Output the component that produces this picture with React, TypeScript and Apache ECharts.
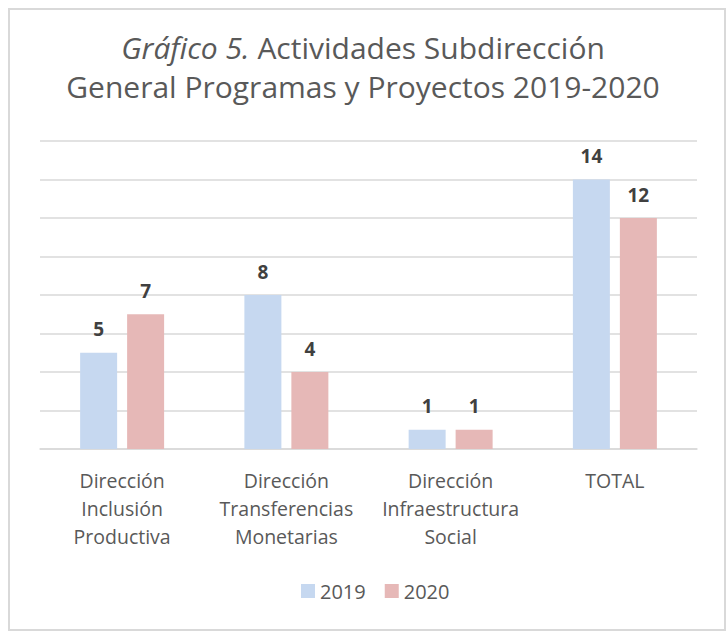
import React, { useEffect, useRef } from "react";
import * as echarts from "echarts";

const categories = [
  "Dirección\nInclusión\nProductiva",
  "Dirección\nTransferencias\nMonetarias",
  "Dirección\nInfraestructura\nSocial",
  "TOTAL",
];
const values2019 = [5, 8, 1, 14];
const values2020 = [7, 4, 1, 12];
const seriesNames = ["2019", "2020"];

const FONT = "'Open Sans', 'Noto Sans', sans-serif";

export default function App() {
  const ref = useRef<HTMLDivElement>(null);
  useEffect(() => {
    if (!ref.current) return;
    const chart = echarts.init(ref.current, undefined, { renderer: "svg" });
    const labelCfg = {
      show: true,
      position: "top",
      distance: 14,
      color: "#404040",
      fontSize: 19,
      fontWeight: "bold",
      fontFamily: FONT,
    };
    chart.setOption({
      animation: false,
      backgroundColor: "#ffffff",
      graphic: [
        {
          type: "rect",
          shape: { x: 9, y: 9, width: 716, height: 621 },
          style: { fill: "none", stroke: "#D9D9D9", lineWidth: 2 },
          silent: true,
        },
        {
          type: "text",
          x: 363,
          y: 47,
          style: {
            text: "{i|Gráfico 5.} Actividades Subdirección",
            rich: {
              i: { fontStyle: "italic", fontSize: 30, fontFamily: FONT, fill: "#595959" },
            },
            fontSize: 30,
            fontFamily: FONT,
            fill: "#595959",
            align: "center",
            verticalAlign: "middle",
          },
        },
        {
          type: "text",
          x: 363,
          y: 86,
          style: {
            text: "General Programas y Proyectos 2019-2020",
            fontSize: 30,
            fontFamily: FONT,
            fill: "#595959",
            align: "center",
            verticalAlign: "middle",
          },
        },
      ],
      legend: {
        data: seriesNames,
        bottom: 29,
        left: 296,
        itemWidth: 14,
        itemHeight: 14,
        itemGap: 19,
        icon: "rect",
        textStyle: { color: "#595959", fontSize: 20, fontFamily: FONT },
      },
      grid: { left: 40, right: 30, top: 141, bottom: 186 },
      xAxis: {
        type: "category",
        data: categories,
        axisLine: { show: true, lineStyle: { color: "#D9D9D9", width: 1.5 } },
        axisTick: { show: false },
        axisLabel: {
          color: "#595959",
          fontSize: 19.5,
          fontFamily: FONT,
          lineHeight: 28,
          margin: 17,
          interval: 0,
        },
      },
      yAxis: {
        type: "value",
        min: 0,
        max: 16,
        interval: 2,
        axisLabel: { show: false },
        axisLine: { show: false },
        axisTick: { show: false },
        splitLine: { lineStyle: { color: "#D9D9D9", width: 1.5 } },
      },
      series: [
        {
          name: seriesNames[0],
          type: "bar",
          data: values2019,
          barWidth: 37,
          barGap: "27%",
          itemStyle: { color: "#C6D8F0" },
          label: labelCfg,
        },
        {
          name: seriesNames[1],
          type: "bar",
          data: values2020,
          barWidth: 37,
          itemStyle: { color: "#E6B8B7" },
          label: labelCfg,
        },
      ],
    });
    return () => chart.dispose();
  }, []);
  return (
    <div
      ref={ref}
      style={{ position: "absolute", left: 0, top: 0, width: 727, height: 635 }}
    />
  );
}
